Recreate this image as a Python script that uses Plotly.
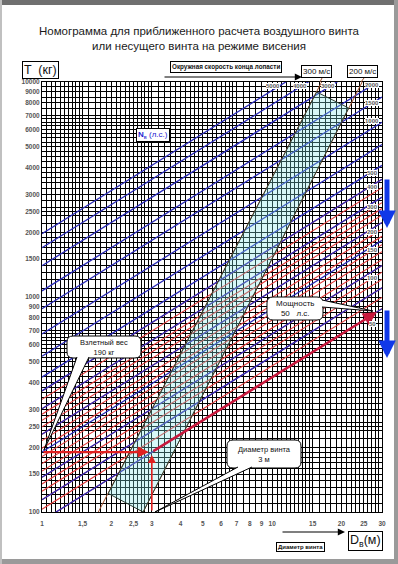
import numpy as np
import plotly.graph_objects as go

# ---------------- data ----------------
# Blue lines: power N (hp); T (kg) at D = 1 m and at D = 30 m
blue_N = [5000, 4000, 3000, 2000, 1500, 1000, 700, 500, 400, 300, 200, 150, 100, 70, 50]
blue_T_at_D1 = [1968, 1696, 1399, 1068, 882, 673, 530, 424, 366, 302, 230, 190, 145, 114, 91]
blue_T_at_D30 = [19000, 16375, 13510, 10313, 8513, 6498, 5120, 4094, 3530, 2913, 2222, 1834, 1400, 1103, 882]

# Red hatch lines (power band)
red_N = [50, 60, 70, 80, 90, 100, 110, 125, 140, 160, 180, 200, 225, 250, 275, 300, 350, 400]
red_T_at_D1 = [91, 103, 114, 125, 135, 145, 155, 168, 181, 198, 215, 230, 249, 267, 285, 302, 334, 365]
red_T_at_D30 = [882, 996, 1104, 1207, 1304, 1400, 1492, 1625, 1751, 1915, 2072, 2222, 2404, 2579, 2748, 2912, 3227, 3528]

# Tip-speed lines (D, T) endpoints
tip300_D = [1.757, 16.4]
tip300_T = [100, 10000]
tip200_D = [2.75, 24.6]
tip200_T = [100, 10000]

# Cyan working zone polygon
zone_D = [1.94, 2.75, 21.5, 15.6, 1.94]
zone_T = [122, 100, 7570, 8985, 122]

# Worked example
takeoff_T = 190
rotor_D = 3
power_end_D = 28.5
power_end_T = 851

# Axis labels
x_label_vals = [1, 1.5, 2, 2.5, 3, 4, 5, 6, 7, 8, 9, 10, 15, 20, 25, 30]
x_label_text = ["1", "1,5", "2", "2,5", "3", "4", "5", "6", "7", "8", "9", "10", "15", "20", "25", "30"]
y_label_vals = [100, 150, 200, 250, 300, 400, 500, 600, 700, 800, 900, 1000, 1500, 2000, 2500,
                3000, 4000, 5000, 6000, 7000, 8000, 9000, 10000]
right_labels = ["2000", "1500", "1000", "500", "400", "300", "200", "150", "100", "50"]
right_label_py = [85, 103, 121, 173, 187, 207, 232, 250, 278, 324]
top_labels = ["5000", "4000", "3000"]
top_label_px = [273, 300, 328]

# ---------------- layout helpers ----------------
W, H = 398, 564
L, R, T, B = 42, 382, 82, 512
FONT = "Liberation Sans, Arial, sans-serif"


def P(px, py):
    return (px - L) / (R - L), (B - py) / (B - T)


def grid(segs, last):
    vals = []
    for a, b, s in segs:
        vals += list(np.round(np.arange(a, b - 1e-9, s), 4))
    vals.append(last)
    return vals


xgrid = grid([(1, 1.5, 0.05), (1.5, 3, 0.1), (3, 5, 0.2), (5, 7, 0.25), (7, 10, 0.5),
              (10, 15, 0.5), (15, 30, 1)], 30)
ygrid = grid([(100, 200, 10), (200, 400, 20), (400, 700, 25), (700, 1000, 50), (1000, 2000, 100),
              (2000, 4000, 200), (4000, 7000, 250), (7000, 10000, 500)], 10000)
xtv = sorted(set([float(v) for v in xgrid]) | set(float(v) for v in x_label_vals))
ytv = sorted(set([float(v) for v in ygrid]) | set(float(v) for v in y_label_vals))
xlab = {float(v): t for v, t in zip(x_label_vals, x_label_text)}
xtt = [xlab.get(v, "") for v in xtv]
ytt = [str(int(v)) if v in [float(u) for u in y_label_vals] else "" for v in ytv]

fig = go.Figure()

# red hatch lines
for t1, t30 in zip(red_T_at_D1, red_T_at_D30):
    fig.add_trace(go.Scatter(x=[1, 30], y=[t1, t30], mode="lines",
                             line=dict(color="#e23a3a", width=1.1), hoverinfo="skip", showlegend=False))
# blue power lines
for t1, t30 in zip(blue_T_at_D1, blue_T_at_D30):
    fig.add_trace(go.Scatter(x=[1, 30], y=[t1, t30], mode="lines",
                             line=dict(color="#2a2ab8", width=1.3), hoverinfo="skip", showlegend=False))
# tip speed lines
for dd, tt in [(tip300_D, tip300_T), (tip200_D, tip200_T)]:
    fig.add_trace(go.Scatter(x=dd, y=tt, mode="lines", line=dict(color="#a0502a", width=1),
                             hoverinfo="skip", showlegend=False))
# cyan zone
fig.add_trace(go.Scatter(x=zone_D, y=zone_T, mode="lines", fill="toself",
                         fillcolor="rgba(130,230,230,0.32)", line=dict(color="#2b3b30", width=1),
                         hoverinfo="skip", showlegend=False))

ann = []
shapes = []


def box(px, py, text, size, color="#111", border=True, bold=False, bg="white", pad=2):
    x, y = P(px, py)
    ann.append(dict(x=x, y=y, xref="paper", yref="paper", text=("<b>%s</b>" % text) if bold else text,
                    showarrow=False, font=dict(family=FONT, size=size, color=color),
                    bgcolor=bg, bordercolor="black" if border else "rgba(0,0,0,0)",
                    borderwidth=1 if border else 0, borderpad=pad, xanchor="center", yanchor="middle"))


def arrow_px(x0, y0, x1, y1, color, width, head=2, size=1.0):
    x, y = P(x1, y1)
    ann.append(dict(x=x, y=y, xref="paper", yref="paper", text="", showarrow=True,
                    ax=x0 - x1, ay=y0 - y1, arrowcolor=color, arrowwidth=width,
                    arrowhead=head, arrowsize=size, standoff=0, startstandoff=0))


def arrow_data(d0, t0, d1, t1, color, width, head=2, size=1.0):
    ann.append(dict(x=np.log10(d1), y=np.log10(t1), xref="x", yref="y", axref="x", ayref="y",
                    ax=np.log10(d0), ay=np.log10(t0), text="", showarrow=True,
                    arrowcolor=color, arrowwidth=width, arrowhead=head, arrowsize=size,
                    standoff=0, startstandoff=0))


def path(pts, close=True):
    s = ""
    for i, (a, b) in enumerate(pts):
        x, y = P(a, b)
        s += ("M" if i == 0 else "L") + " %.5f,%.5f " % (x, y)
    return s + ("Z" if close else "")


def rrect(x0, y0, x1, y1, r):
    def p(a, b):
        x, y = P(a, b)
        return "%.5f,%.5f" % (x, y)
    return ("M %s L %s Q %s %s L %s Q %s %s L %s Q %s %s L %s Q %s %s Z" % (
        p(x0 + r, y0), p(x1 - r, y0), p(x1, y0), p(x1, y0 + r), p(x1, y1 - r), p(x1, y1), p(x1 - r, y1),
        p(x0 + r, y1), p(x0, y1), p(x0, y1 - r), p(x0, y0 + r), p(x0, y0), p(x0 + r, y0)))


# worked example arrows
arrow_data(1, takeoff_T, rotor_D * 0.97, takeoff_T, "#e02020", 2.2, head=2, size=1.0)
arrow_data(rotor_D, 100, rotor_D, takeoff_T * 0.97, "#e02020", 1.6, head=2, size=1.0)
arrow_data(rotor_D, takeoff_T, power_end_D, power_end_T, "#c8183c", 2.5, head=2, size=1.1)

# callout bubbles
for rect, wedge in [((67, 336, 141, 358), [(77, 357), (44, 450), (89, 357)]),
                    ((267, 297, 323, 320), [(322, 300), (373, 311), (322, 307)]),
                    ((227, 440, 301, 468), [(238, 467), (155, 512), (252, 467)])]:
    shapes.append(dict(type="path", xref="paper", yref="paper", path=rrect(*rect, 6),
                       fillcolor="white", line=dict(color="black", width=1), layer="above"))
    shapes.append(dict(type="path", xref="paper", yref="paper", path=path(wedge, close=False),
                       fillcolor="white", line=dict(color="black", width=1), layer="above"))

box(104, 347, "Взлетный вес<br>190 кг", 7.5, border=False, bg="rgba(0,0,0,0)")
box(295, 308.5, "Мощность<br>50   л.с.", 8, border=False, bg="rgba(0,0,0,0)")
box(264, 454, "Диаметр винта<br>3 м", 7.5, border=False, bg="rgba(0,0,0,0)")

# right/top labels of power lines
for t, py in zip(right_labels, right_label_py):
    box(372, py, t, 6, color="#555", border=False, bold=True, pad=0)
for t, px in zip(top_labels, top_label_px):
    box(px, 86, t, 6, color="#555", border=False, bold=True, pad=0)

# label boxes
box(153, 135, "<b>N</b><sub>в</sub> (л.с.)", 8, color="#1a1ad0", pad=1)
box(40, 70, "T  (кг)", 12.5, pad=1)
box(226, 66.5, "Окружная скорость конца лопасти", 6.3, bold=True, pad=1)
box(316, 72, "300 м/с", 8, pad=1)
box(362, 72, "200 м/с", 8, pad=1)
box(300, 547, "Диаметр винта", 6, bold=True, pad=1)
box(365, 541, "D<sub>в</sub>(м)", 12.5, pad=1)

arrow_px(163, 77, 302, 77, "black", 1.2, head=2, size=1.2)
arrow_px(281, 532, 345, 532, "black", 1.2, head=2, size=1.2)
# blue direction arrows
arrow_px(387, 178, 387, 228, "#1038e8", 5, head=2, size=0.7)
arrow_px(387, 309, 387, 358, "#1038e8", 5, head=2, size=0.7)

# tip speed leaders to labels
shapes.append(dict(type="path", xref="paper", yref="paper", path=path([(320, 82), (322, 78)], False),
                   line=dict(color="#a0502a", width=1), layer="above"))
shapes.append(dict(type="path", xref="paper", yref="paper", path=path([(361, 82), (364, 78)], False),
                   line=dict(color="#a0502a", width=1), layer="above"))

# title
ann.append(dict(x=P(199, 0)[0], y=P(0, 39)[1], xref="paper", yref="paper", showarrow=False,
                text="Номограмма для приближенного расчета воздушного винта<br>или несущего винта на режиме висения",
                font=dict(family=FONT, size=11.5, color="#1a1a1a"), xanchor="center", yanchor="middle"))

# window frame
for (x0, y0, x1, y1, c) in [(0, 0, 398, 5, "#707070"), (394, 0, 398, 564, "#9a9a9a"),
                            (0, 559, 398, 564, "#9a9a9a"), (0, 0, 2, 564, "#c0c0c0")]:
    a0, b0 = P(x0, y0)
    a1, b1 = P(x1, y1)
    shapes.append(dict(type="rect", xref="paper", yref="paper", x0=a0, y0=b0, x1=a1, y1=b1,
                       fillcolor=c, line=dict(width=0), layer="above"))

fig.update_layout(
    width=W, height=H, margin=dict(l=L, r=W - R, t=T, b=H - B),
    paper_bgcolor="white", plot_bgcolor="white",
    font=dict(family=FONT),
    annotations=ann, shapes=shapes, showlegend=False,
    xaxis=dict(type="log", range=[0, np.log10(30)], tickvals=xtv, ticktext=xtt,
               showgrid=True, gridcolor="black", gridwidth=1, zeroline=False,
               showline=True, linecolor="black", linewidth=1, mirror=True,
               ticks="outside", ticklen=5, tickcolor="rgba(0,0,0,0)",
               tickfont=dict(family=FONT, size=6.5, color="#555", weight="bold"), tickangle=0),
    yaxis=dict(type="log", range=[2, 4], tickvals=ytv, ticktext=ytt,
               showgrid=True, gridcolor="black", gridwidth=1, zeroline=False,
               showline=True, linecolor="black", linewidth=1, mirror=True,
               ticks="", tickfont=dict(family=FONT, size=6.5, color="#555", weight="bold")),
)

fig.write_html("out.html", config={"displayModeBar": False},
               post_script="document.body.style.margin='0';document.body.style.overflow='hidden';")
